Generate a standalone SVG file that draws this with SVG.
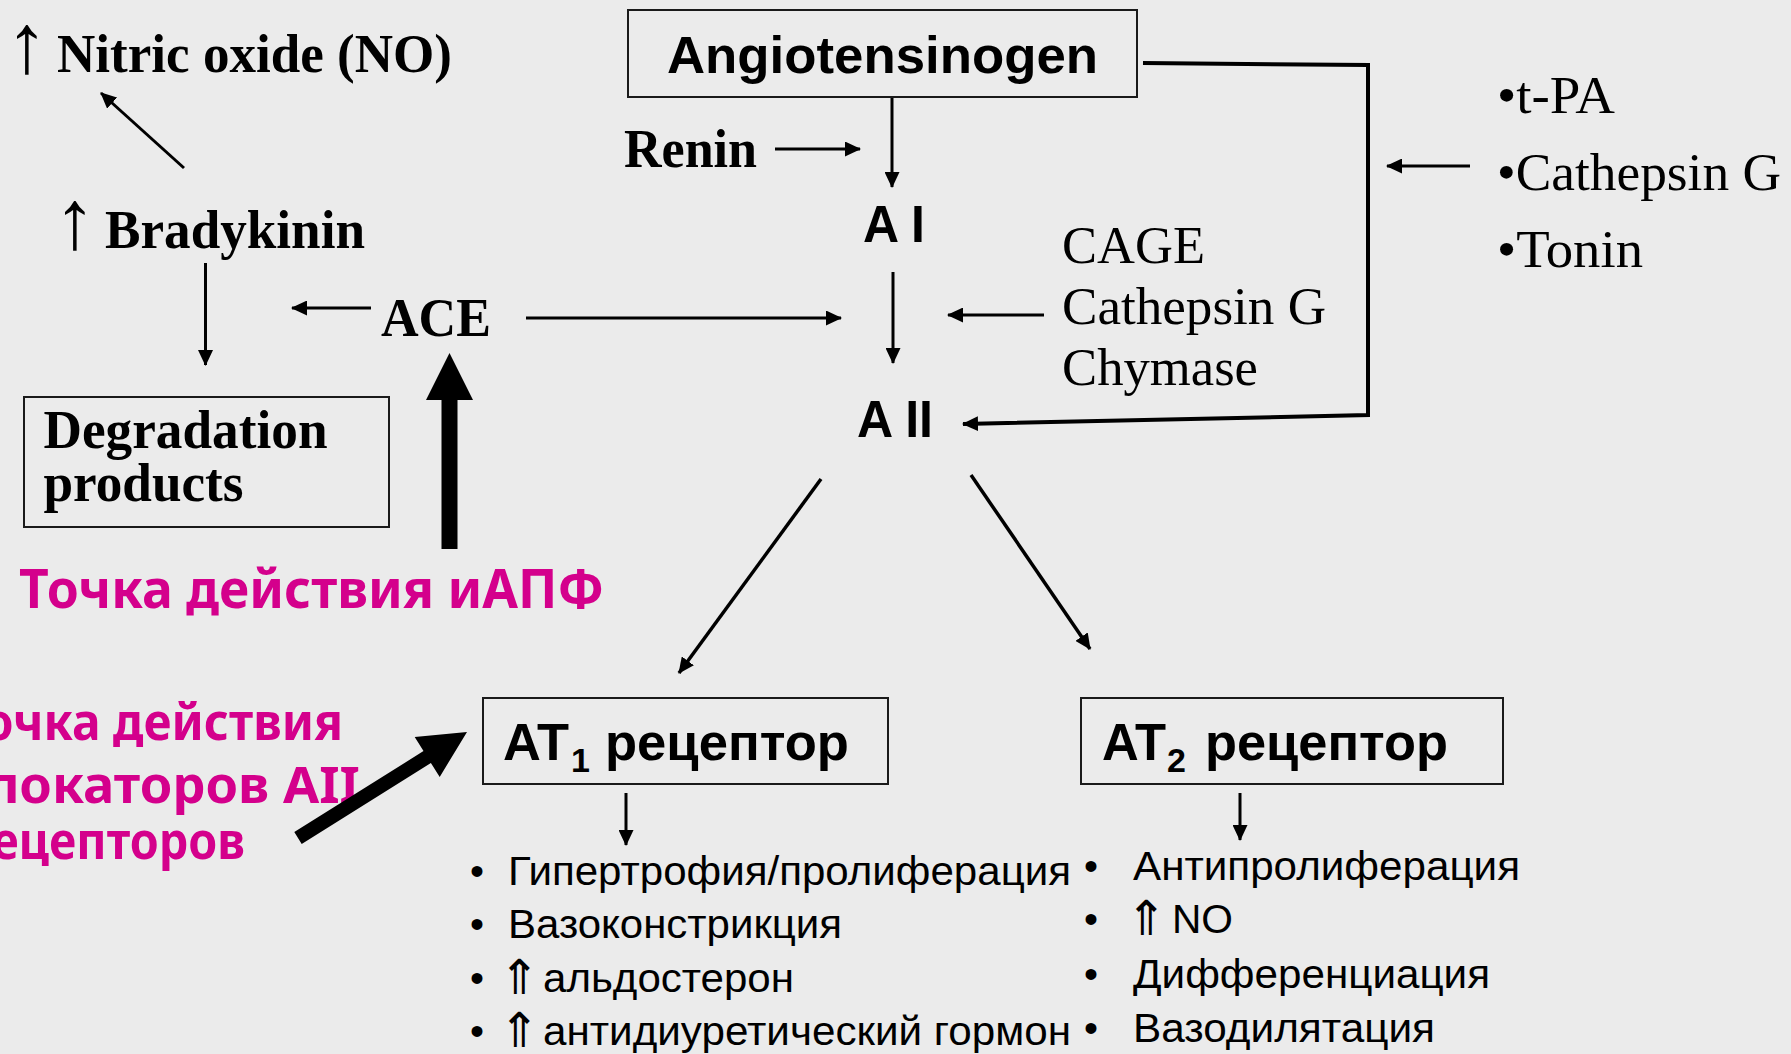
<svg xmlns="http://www.w3.org/2000/svg" width="1791" height="1054" viewBox="0 0 1791 1054">
  <defs>
    <marker id="ah" markerUnits="userSpaceOnUse" markerWidth="16" markerHeight="15" refX="15" refY="7.5" orient="auto">
      <path d="M0,0 L16,7.5 L0,15 z" fill="#000"/>
    </marker>
    <style>
      .tb { font-family: "Liberation Serif", "Times New Roman", serif; font-weight: bold; font-size: 54px; fill: #000; }
      .tr { font-family: "Liberation Serif", "Times New Roman", serif; font-size: 52px; fill: #000; }
      .sym { font-family: "Liberation Serif", "DejaVu Serif", serif; font-size: 84px; fill: #000; text-anchor: middle; }
      .ab { font-family: "Liberation Sans", Arial, sans-serif; font-weight: bold; font-size: 52px; fill: #000; }
      .sub { font-family: "Liberation Sans", Arial, sans-serif; font-weight: bold; font-size: 34px; fill: #000; }
      .ar { font-family: "Liberation Sans", Arial, "DejaVu Sans", sans-serif; font-size: 40px; fill: #000; }
      .up2 { font-family: "DejaVu Sans", sans-serif; font-size: 48px; fill: #000; text-anchor: middle; }
      .mg { font-family: "Noto Sans", "DejaVu Sans", sans-serif; font-weight: bold; fill: #d4008c; }
      .box { fill: none; stroke: #1a1a1a; stroke-width: 2; }
      .ln { fill: none; stroke: #000; stroke-width: 3; marker-end: url(#ah); }
      .ln4 { stroke-width: 3.5; }
      .br { fill: none; stroke: #000; stroke-width: 4; stroke-linejoin: miter; marker-end: url(#ah); }
      .big { fill: #000; }
    </style>
  </defs>

  <rect x="0" y="0" width="1791" height="1054" fill="#ebebeb"/>

  <!-- connectors -->
  <g id="connectors">
    <line class="ln" x1="184" y1="168" x2="101" y2="93"/>
    <line class="ln" x1="205.5" y1="263" x2="205.5" y2="365"/>
    <line class="ln" x1="371" y1="308" x2="292" y2="308"/>
    <line class="ln" x1="526" y1="318" x2="841" y2="318"/>
    <line class="ln" x1="892" y1="97" x2="892" y2="187"/>
    <line class="ln" x1="775" y1="149" x2="860" y2="149"/>
    <line class="ln" x1="893" y1="272" x2="893" y2="363"/>
    <line class="ln" x1="1044" y1="315" x2="948" y2="315"/>
    <polyline class="br" points="1143,63 1368,65 1368,415 963,424"/>
    <line class="ln" x1="1470" y1="166" x2="1387" y2="166"/>
    <line class="ln ln4" x1="821" y1="479" x2="679" y2="673"/>
    <line class="ln ln4" x1="971" y1="475" x2="1090" y2="649"/>
    <line class="ln" x1="626" y1="793" x2="626" y2="845"/>
    <line class="ln" x1="1240" y1="793" x2="1240" y2="840"/>
  </g>

  <!-- enzyme and product nodes -->
  <g id="nitric-oxide">
    <text class="sym" x="27" y="72">↑</text>
    <text class="tb" x="57" y="72" textLength="395" lengthAdjust="spacingAndGlyphs">Nitric oxide (NO)</text>
  </g>
  <g id="bradykinin">
    <text class="sym" x="75" y="248">↑</text>
    <text class="tb" x="105" y="248" textLength="260" lengthAdjust="spacingAndGlyphs">Bradykinin</text>
  </g>
  <g id="degradation">
    <rect class="box" x="24" y="397" width="365" height="130"/>
    <text class="tb" x="43.5" y="448" textLength="284" lengthAdjust="spacingAndGlyphs">Degradation</text>
    <text class="tb" x="43.5" y="501" textLength="200" lengthAdjust="spacingAndGlyphs">products</text>
  </g>
  <g id="ace">
    <text class="tb" x="381" y="336" textLength="110" lengthAdjust="spacingAndGlyphs">ACE</text>
  </g>
  <g id="renin">
    <text class="tb" x="624" y="167" textLength="133" lengthAdjust="spacingAndGlyphs">Renin</text>
  </g>
  <g id="angiotensinogen">
    <rect class="box" x="628" y="10" width="509" height="87"/>
    <text class="ab" x="667" y="73" font-size="55" textLength="431" lengthAdjust="spacingAndGlyphs">Angiotensinogen</text>
  </g>
  <g id="a1">
    <text class="ab" x="863" y="242" textLength="62" lengthAdjust="spacingAndGlyphs">A I</text>
  </g>
  <g id="a2">
    <text class="ab" x="857" y="437" textLength="76" lengthAdjust="spacingAndGlyphs">A II</text>
  </g>
  <g id="chymase-group">
    <text class="tr" x="1062" y="263" textLength="143" lengthAdjust="spacingAndGlyphs">CAGE</text>
    <text class="tr" x="1062" y="324" textLength="264" lengthAdjust="spacingAndGlyphs">Cathepsin G</text>
    <text class="tr" x="1062" y="385" textLength="196" lengthAdjust="spacingAndGlyphs">Chymase</text>
  </g>
  <g id="tpa-group">
    <text class="tr" x="1497" y="113" textLength="118" lengthAdjust="spacingAndGlyphs">•t-PA</text>
    <text class="tr" x="1497" y="190" textLength="284" lengthAdjust="spacingAndGlyphs">•Cathepsin G</text>
    <text class="tr" x="1497" y="267" textLength="146" lengthAdjust="spacingAndGlyphs">•Tonin</text>
  </g>

  <!-- receptor nodes -->
  <g id="at1">
    <rect class="box" x="483" y="698" width="405" height="86"/>
    <text class="ab" x="503" y="760" textLength="66" lengthAdjust="spacingAndGlyphs">AT</text>
    <text class="sub" x="571" y="772">1</text>
    <text class="ab" x="605" y="760" textLength="244" lengthAdjust="spacingAndGlyphs">рецептор</text>
  </g>
  <g id="at2">
    <rect class="box" x="1081" y="698" width="422" height="86"/>
    <text class="ab" x="1102" y="760" textLength="64" lengthAdjust="spacingAndGlyphs">AT</text>
    <text class="sub" x="1167" y="772">2</text>
    <text class="ab" x="1205" y="760" textLength="243" lengthAdjust="spacingAndGlyphs">рецептор</text>
  </g>

  <!-- effect lists -->
  <g id="at1-effects">
    <text class="ar" x="470" y="885">•</text>
    <text class="ar" x="508" y="885" textLength="563" lengthAdjust="spacingAndGlyphs">Гипертрофия/пролиферация</text>
    <text class="ar" x="470" y="938">•</text>
    <text class="ar" x="508" y="938" textLength="334" lengthAdjust="spacingAndGlyphs">Вазоконстрикция</text>
    <text class="ar" x="470" y="992">•</text>
    <text class="up2" x="519" y="994">⇑</text>
    <text class="ar" x="543" y="992" textLength="251" lengthAdjust="spacingAndGlyphs">альдостерон</text>
    <text class="ar" x="470" y="1045">•</text>
    <text class="up2" x="519" y="1047">⇑</text>
    <text class="ar" x="543" y="1045" textLength="528" lengthAdjust="spacingAndGlyphs">антидиуретический гормон</text>
  </g>
  <g id="at2-effects">
    <text class="ar" x="1084" y="880">•</text>
    <text class="ar" x="1133" y="880" textLength="387" lengthAdjust="spacingAndGlyphs">Антипролиферация</text>
    <text class="ar" x="1084" y="933">•</text>
    <text class="up2" x="1146" y="935">⇑</text>
    <text class="ar" x="1172" y="933" textLength="61" lengthAdjust="spacingAndGlyphs">NO</text>
    <text class="ar" x="1084" y="988">•</text>
    <text class="ar" x="1133" y="988" textLength="357" lengthAdjust="spacingAndGlyphs">Дифференциация</text>
    <text class="ar" x="1084" y="1042">•</text>
    <text class="ar" x="1133" y="1042" textLength="302" lengthAdjust="spacingAndGlyphs">Вазодилятация</text>
  </g>

  <!-- drug action annotations -->
  <g id="ace-inhibitor-note">
    <text class="mg" x="19" y="608" font-size="54" textLength="585" lengthAdjust="spacingAndGlyphs">Точка действия иАПФ</text>
    <polygon class="big" points="449.5,353 473,400 457.5,400 457.5,549 441.5,549 441.5,400 426,400"/>
  </g>
  <g id="arb-note">
    <text class="mg" x="-42" y="740" font-size="50" textLength="385" lengthAdjust="spacingAndGlyphs">Точка действия</text>
    <text class="mg" x="-46" y="803" font-size="50" textLength="406" lengthAdjust="spacingAndGlyphs">блокаторов AII</text>
    <text class="mg" x="-38" y="859" font-size="50" textLength="283" lengthAdjust="spacingAndGlyphs">рецепторов</text>
    <polygon class="big" points="467,732 414.7,737.1 423.5,751.1 294.3,832.1 301.7,843.9 430.9,762.9 439.7,776.9"/>
  </g>
</svg>
